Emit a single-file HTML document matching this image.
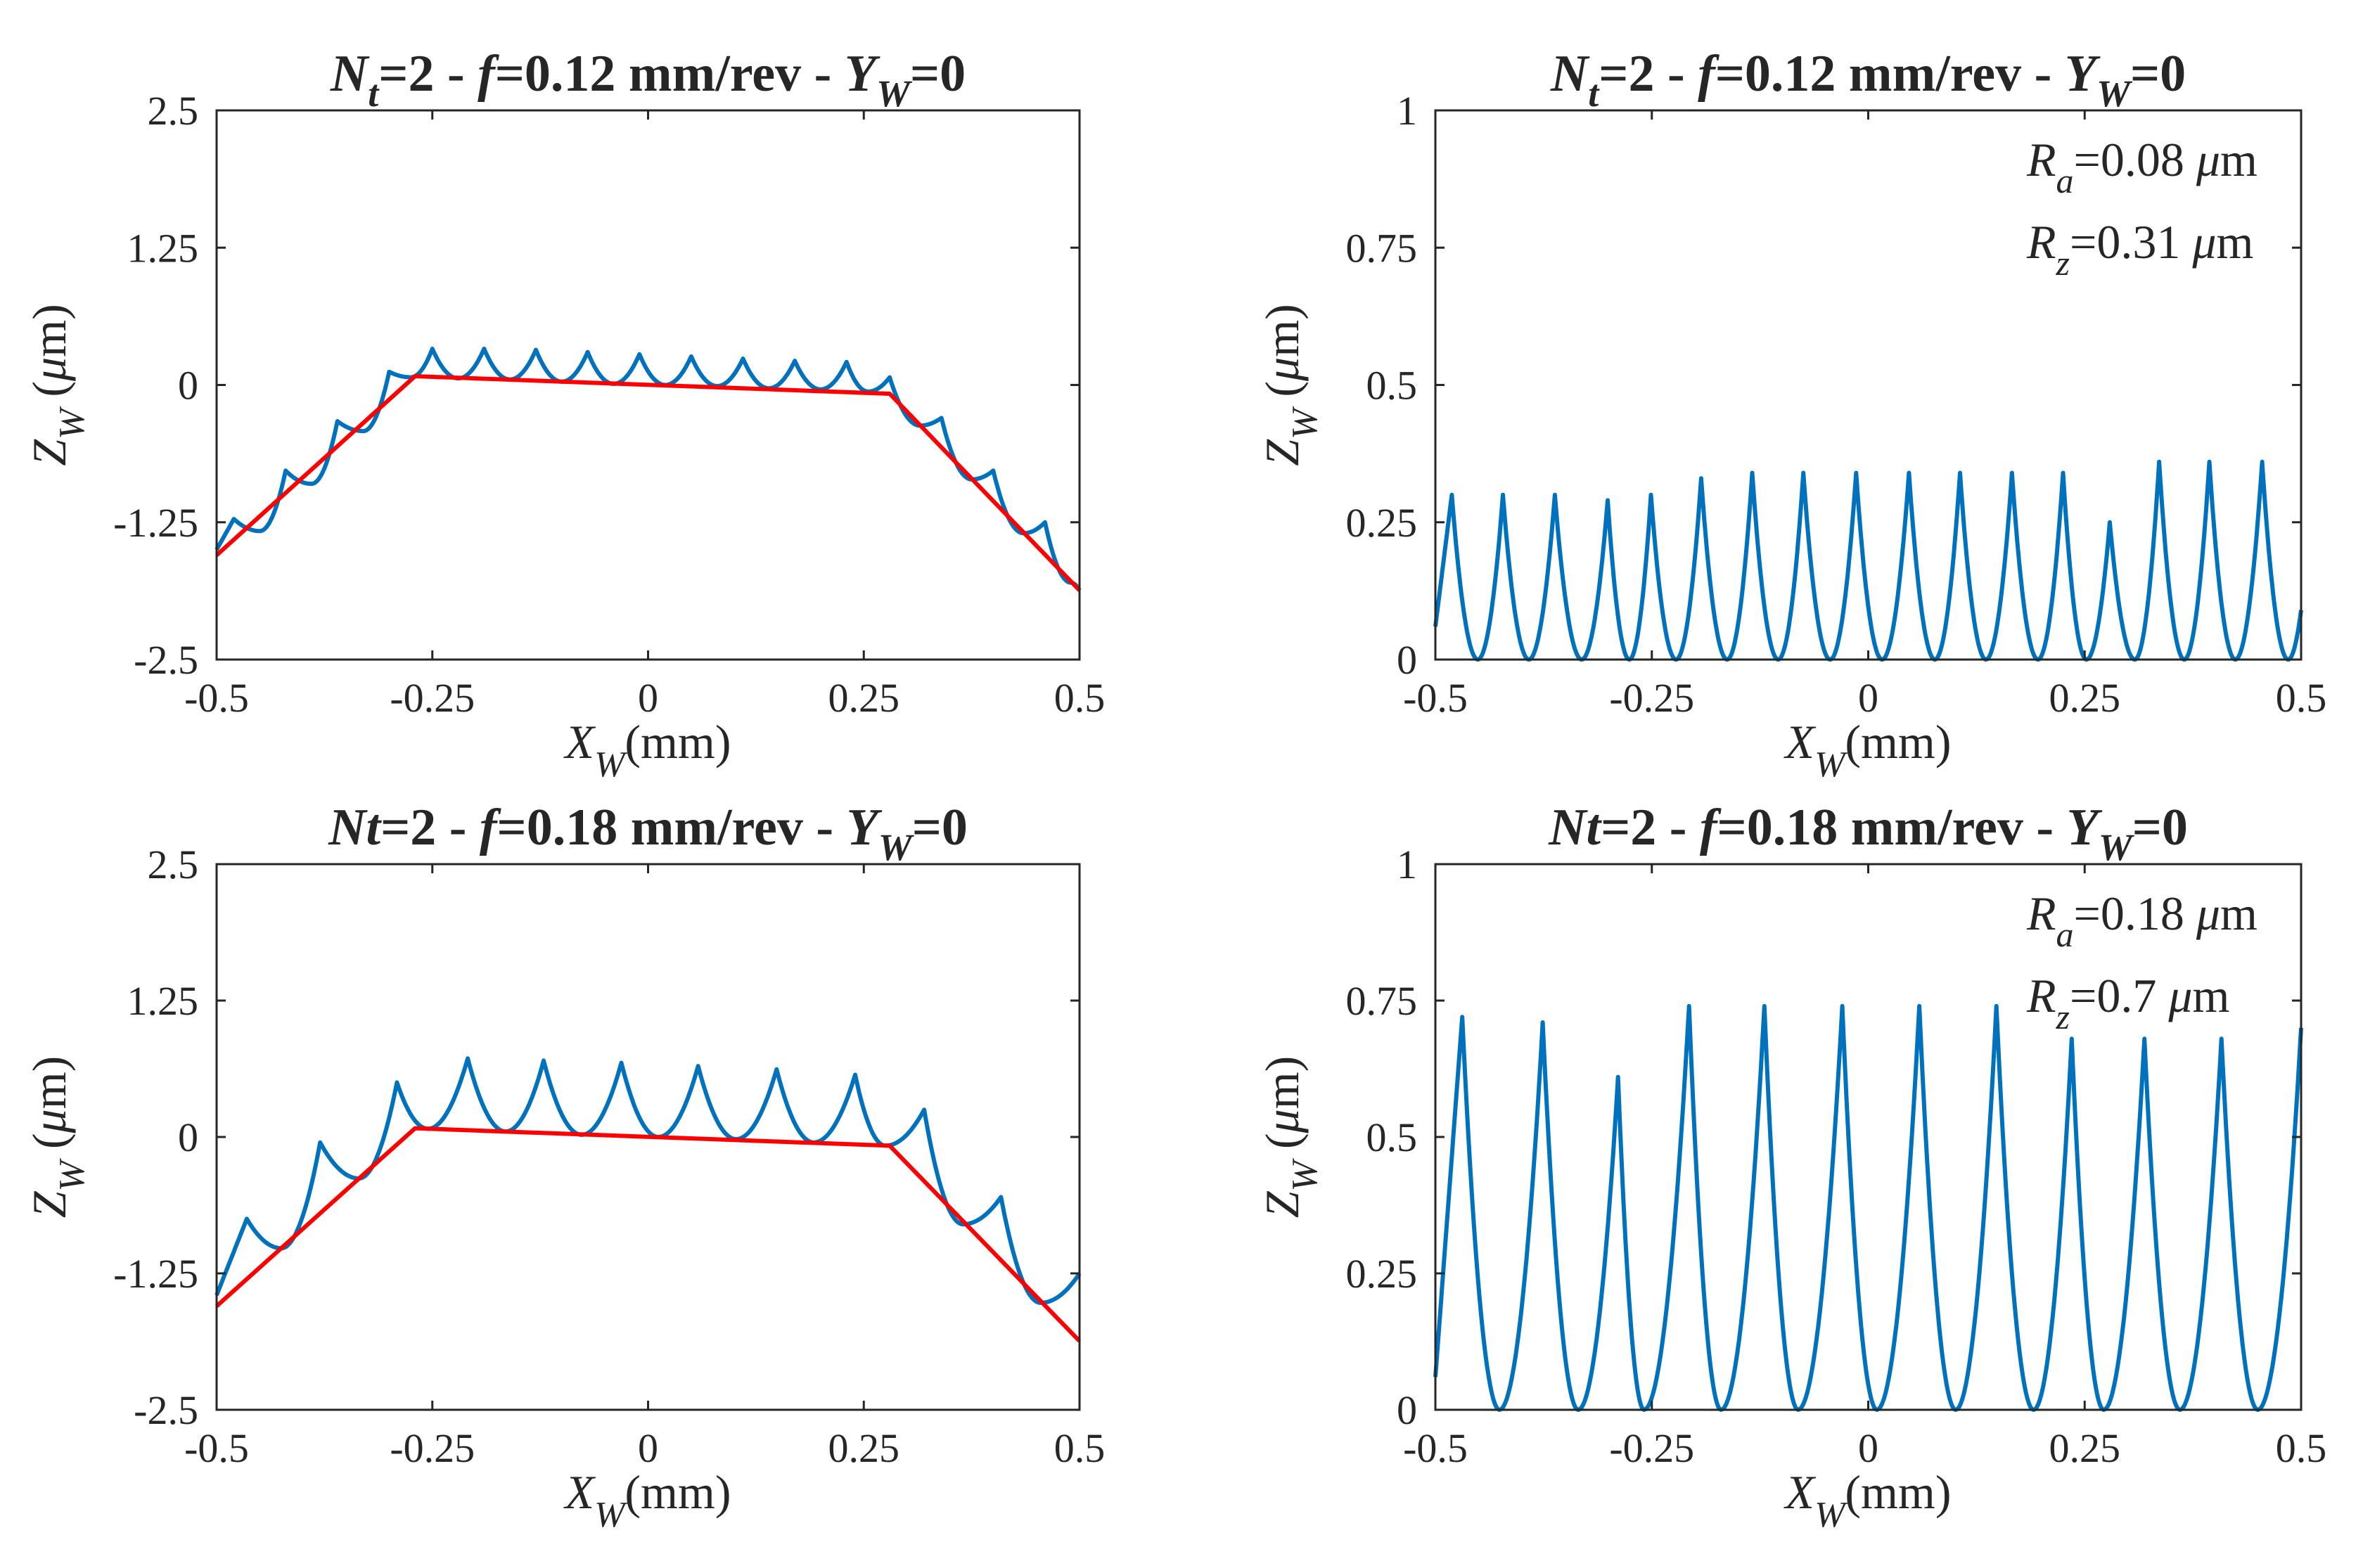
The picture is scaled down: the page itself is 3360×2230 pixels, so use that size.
<!DOCTYPE html>
<html><head><meta charset="utf-8"><style>
html,body{margin:0;padding:0;background:#fff;}
svg{display:block;}
text{font-family:"Liberation Serif",serif;fill:#262626;}
</style></head><body>
<svg id="fig" width="3360" height="2230" viewBox="0 0 3360 2230" xmlns="http://www.w3.org/2000/svg"></svg>
<script>
// ---------- data ----------
const xTicks = [-0.5, -0.25, 0, 0.25, 0.5];
const xTickLabels = ["-0.5", "-0.25", "0", "0.25", "0.5"];
const yTicksLeft = [-2.5, -1.25, 0, 1.25, 2.5];
const yTickLabelsLeft = ["-2.5", "-1.25", "0", "1.25", "2.5"];
const yTicksRight = [0, 0.25, 0.5, 0.75, 1];
const yTickLabelsRight = ["0", "0.25", "0.5", "0.75", "1"];

// nominal profile (red) shared by left plots
const nominalX = [-0.5, -0.27, 0.28, 0.5];
const nominalZ = [-1.55, 0.08, -0.08, -1.87];

// top-left blue profile
const tlPeakX = [-0.48, -0.42, -0.36, -0.30, -0.25, -0.19, -0.13, -0.07, -0.01, 0.05, 0.11, 0.17, 0.23, 0.28, 0.34, 0.40, 0.46];
const tlPeakZ = [-1.22, -0.78, -0.33, 0.12, 0.33, 0.33, 0.32, 0.30, 0.28, 0.26, 0.24, 0.22, 0.21, 0.07, -0.30, -0.78, -1.25];
const tlValX = [-0.45, -0.39, -0.33, -0.275, -0.22, -0.16, -0.10, -0.04, 0.02, 0.08, 0.14, 0.20, 0.255, 0.315, 0.375, 0.435, 0.49];
const tlValZ = [-1.33, -0.90, -0.42, 0.07, 0.06, 0.05, 0.03, 0.01, 0.0, -0.01, -0.03, -0.04, -0.06, -0.37, -0.86, -1.35, -1.80];
const tlStart = [-0.5, -1.5], tlEnd = [0.5, -1.87];

// top-right
const trPeakX = [-0.481, -0.422, -0.362, -0.301, -0.251, -0.193, -0.134, -0.075, -0.014, 0.047, 0.106, 0.166, 0.225, 0.279, 0.336, 0.394, 0.455];
const trPeakZ = [0.30, 0.30, 0.30, 0.29, 0.30, 0.33, 0.34, 0.34, 0.34, 0.34, 0.34, 0.34, 0.34, 0.25, 0.36, 0.36, 0.36];
const trValX = [-0.451, -0.392, -0.331, -0.276, -0.222, -0.163, -0.104, -0.044, 0.016, 0.077, 0.136, 0.196, 0.252, 0.308, 0.365, 0.424, 0.485];
const trValZ = [0, 0, 0, 0, 0, 0, 0, 0, 0, 0, 0, 0, 0, 0, 0, 0, 0];
const trStart = [-0.5, 0.06], trEnd = [0.5, 0.09];

// bottom-left
const blPeakX = [-0.465, -0.380, -0.291, -0.209, -0.121, -0.031, 0.058, 0.149, 0.240, 0.320, 0.409];
const blPeakZ = [-0.75, -0.05, 0.50, 0.72, 0.70, 0.68, 0.65, 0.62, 0.57, 0.25, -0.55];
const blValX = [-0.425, -0.335, -0.255, -0.165, -0.077, 0.012, 0.102, 0.192, 0.275, 0.365, 0.455];
const blValZ = [-1.02, -0.38, 0.075, 0.05, 0.02, 0.0, -0.02, -0.05, -0.08, -0.80, -1.52];
const blStart = [-0.5, -1.45], blEnd = [0.5, -1.25];

// bottom-right
const brPeakX = [-0.469, -0.376, -0.289, -0.207, -0.120, -0.030, 0.059, 0.148, 0.235, 0.319, 0.408];
const brPeakZ = [0.72, 0.71, 0.61, 0.74, 0.74, 0.74, 0.74, 0.74, 0.68, 0.68, 0.68];
const brValX = [-0.426, -0.335, -0.259, -0.170, -0.081, 0.010, 0.101, 0.191, 0.272, 0.360, 0.450];
const brValZ = [0, 0, 0, 0, 0, 0, 0, 0, 0, 0, 0];
const brStart = [-0.5, 0.06], brEnd = [0.5, 0.70];

// ---------- drawing ----------
const NS = "http://www.w3.org/2000/svg";
const svg = document.getElementById('fig');
function el(tag, attrs, parent) {
  const e = document.createElementNS(NS, tag);
  for (const k in attrs) e.setAttribute(k, attrs[k]);
  (parent || svg).appendChild(e);
  return e;
}

function buildPath(sx, sz, px, pz, vx, vz, ex, ez, X, Y) {
  const seq = [];
  for (let i = 0; i < px.length; i++) seq.push({x: px[i], z: pz[i], t: 'p'});
  for (let i = 0; i < vx.length; i++) seq.push({x: vx[i], z: vz[i], t: 'v'});
  seq.push({x: sx, z: sz, t: 's'});
  seq.push({x: ex, z: ez, t: 'e'});
  seq.sort((a, b) => a.x - b.x);
  let d = "M" + X(seq[0].x).toFixed(1) + "," + Y(seq[0].z).toFixed(1);
  for (let i = 0; i < seq.length - 1; i++) {
    const a = seq[i], b = seq[i + 1];
    let v, p;
    if (a.t === 'v') { v = a; p = b; } else if (b.t === 'v') { v = b; p = a; } else { v = null; }
    const N = 24;
    for (let k = 1; k <= N; k++) {
      const x = a.x + (b.x - a.x) * k / N;
      let z;
      if (v) {
        const r = (x - v.x) / (p.x - v.x);
        z = v.z + (p.z - v.z) * r * r;
      } else {
        z = a.z + (b.z - a.z) * k / N;
      }
      d += " L" + X(x).toFixed(1) + "," + Y(z).toFixed(1);
    }
  }
  return d;
}

function panel(opt) {
  const g = el('g', {});
  
  
  const {x0, x1, y0, y1, ymin, ymax} = opt;
  const X = v => x0 + (v - (-0.5)) / 1 * (x1 - x0);
  const Y = v => y1 - (v - ymin) / (ymax - ymin) * (y1 - y0);

  const t = el('text', {x: (x0 + x1) / 2, y: y0 - 28, 'text-anchor': 'middle', 'font-size': 74, 'font-weight': 'bold'}, g);
  
  
  t.innerHTML = opt.title;

  const b = el('path', {d: buildPath(opt.s[0], opt.s[1], opt.px, opt.pz, opt.vx, opt.vz, opt.e[0], opt.e[1], X, Y), fill: 'none', stroke: '#0072BD', 'stroke-width': 6, 'stroke-linejoin': 'round'}, g);
  
  
  if (opt.red) {
    let d = "";
    for (let i = 0; i < nominalX.length; i++) d += (i ? " L" : "M") + X(nominalX[i]).toFixed(1) + "," + Y(nominalZ[i]).toFixed(1);
    const r = el('path', {d: d, fill: 'none', stroke: '#ff0000', 'stroke-width': 6, 'stroke-linejoin': 'round'}, g);
    
    
  }

  const box = el('rect', {x: x0, y: y0, width: x1 - x0, height: y1 - y0, fill: 'none', stroke: '#262626', 'stroke-width': 3}, g);
  
  

  const tl = 13;
  xTicks.forEach((v, i) => {
    const xx = X(v);
    const tk = el('path', {d: `M${xx},${y1} v${-tl} M${xx},${y0} v${tl}`, stroke: '#262626', 'stroke-width': 3}, g);
    
    
    const lb = el('text', {x: xx, y: y1 + 74, 'text-anchor': 'middle', 'font-size': 58}, g);
    
    
    lb.textContent = xTickLabels[i];
  });
  opt.yt.forEach((v, i) => {
    const yy = Y(v);
    const tk = el('path', {d: `M${x0},${yy} h${tl} M${x1},${yy} h${-tl}`, stroke: '#262626', 'stroke-width': 3}, g);
    
    
    const lb = el('text', {x: x0 - 26, y: yy + 20, 'text-anchor': 'end', 'font-size': 58}, g);
    
    
    lb.textContent = opt.ytl[i];
  });

  const xl = el('text', {x: (x0 + x1) / 2, y: y1 + 140, 'text-anchor': 'middle', 'font-size': 68}, g);
  
  
  xl.innerHTML = '<tspan font-style="italic">X</tspan><tspan font-style="italic" font-size="52" dy="26">W</tspan><tspan dy="-26">(mm)</tspan>';

  const yl = el('text', {x: 0, y: 0, 'text-anchor': 'middle', 'font-size': 68, transform: `translate(${x0 - opt.ylOff},${(y0 + y1) / 2}) rotate(-90)`}, g);
  
  
  yl.innerHTML = '<tspan font-style="italic">Z</tspan><tspan font-style="italic" font-size="52" dy="26">W</tspan><tspan dy="-26"> (</tspan><tspan font-style="italic">μ</tspan><tspan>m)</tspan>';

  if (opt.ann) {
    opt.ann.forEach((a, i) => {
      const at = el('text', {x: x1 - 390, y: y0 + 93 + i * 117, 'font-size': 68}, g);
      
      
      at.innerHTML = a;
    });
  }
}

const titleTop = '<tspan font-style="italic">N</tspan><tspan font-style="italic" font-size="54" dy="22">t</tspan><tspan dy="-22">=2 - </tspan><tspan font-style="italic">f</tspan>=0.12 mm/rev - <tspan font-style="italic">Y</tspan><tspan font-style="italic" font-size="54" dy="22">W</tspan><tspan dy="-22">=0</tspan>';
const titleBot = '<tspan font-style="italic">Nt</tspan>=2 - <tspan font-style="italic">f</tspan>=0.18 mm/rev - <tspan font-style="italic">Y</tspan><tspan font-style="italic" font-size="54" dy="22">W</tspan><tspan dy="-22">=0</tspan>';

const LX0 = 308, LX1 = 1535, RX0 = 2041, RX1 = 3272;
const TY0 = 157, TY1 = 938, BY0 = 1229, BY1 = 2005;

panel({name: 'panel-top-left', x0: LX0, x1: LX1, y0: TY0, y1: TY1, ymin: -2.5, ymax: 2.5, yt: yTicksLeft, ytl: yTickLabelsLeft, title: titleTop, red: true, ylOff: 215,
  px: tlPeakX, pz: tlPeakZ, vx: tlValX, vz: tlValZ, s: tlStart, e: tlEnd});
panel({name: 'panel-top-right', x0: RX0, x1: RX1, y0: TY0, y1: TY1, ymin: 0, ymax: 1, yt: yTicksRight, ytl: yTickLabelsRight, title: titleTop, red: false, ylOff: 195,
  px: trPeakX, pz: trPeakZ, vx: trValX, vz: trValZ, s: trStart, e: trEnd,
  ann: ['<tspan font-style="italic">R</tspan><tspan font-style="italic" font-size="50" dy="24">a</tspan><tspan dy="-24">=0.08 </tspan><tspan font-style="italic">μ</tspan>m',
        '<tspan font-style="italic">R</tspan><tspan font-style="italic" font-size="50" dy="24">z</tspan><tspan dy="-24">=0.31 </tspan><tspan font-style="italic">μ</tspan>m']});
panel({name: 'panel-bottom-left', x0: LX0, x1: LX1, y0: BY0, y1: BY1, ymin: -2.5, ymax: 2.5, yt: yTicksLeft, ytl: yTickLabelsLeft, title: titleBot, red: true, ylOff: 215,
  px: blPeakX, pz: blPeakZ, vx: blValX, vz: blValZ, s: blStart, e: blEnd});
panel({name: 'panel-bottom-right', x0: RX0, x1: RX1, y0: BY0, y1: BY1, ymin: 0, ymax: 1, yt: yTicksRight, ytl: yTickLabelsRight, title: titleBot, red: false, ylOff: 195,
  px: brPeakX, pz: brPeakZ, vx: brValX, vz: brValZ, s: brStart, e: brEnd,
  ann: ['<tspan font-style="italic">R</tspan><tspan font-style="italic" font-size="50" dy="24">a</tspan><tspan dy="-24">=0.18 </tspan><tspan font-style="italic">μ</tspan>m',
        '<tspan font-style="italic">R</tspan><tspan font-style="italic" font-size="50" dy="24">z</tspan><tspan dy="-24">=0.7 </tspan><tspan font-style="italic">μ</tspan>m']});
</script>
</body></html>
